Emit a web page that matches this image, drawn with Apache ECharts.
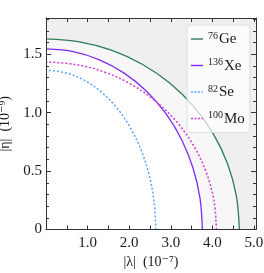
<!DOCTYPE html>
<html><head><meta charset="utf-8">
<script src="https://cdn.jsdelivr.net/npm/echarts@6/dist/echarts.min.js"></script>
<style>html,body{margin:0;padding:0;background:#fff}#c{width:264px;height:273px}</style>
</head><body><div id="c"></div>
<script>
// |lambda| (1e-7) and |eta| (1e-9) along each curve
const geX = [4.65, 4.579, 4.370, 4.027, 3.562, 2.989, 2.325, 1.590, 0.807, 0];
const geY = [0, 0.283, 0.558, 0.816, 1.048, 1.249, 1.412, 1.533, 1.606, 1.631];
const xeX = [3.76, 3.703, 3.533, 3.256, 2.880, 2.417, 1.880, 1.286, 0.653, 0];
const xeY = [0, 0.268, 0.528, 0.773, 0.993, 1.183, 1.338, 1.452, 1.522, 1.545];
const seX = [2.64, 2.600, 2.481, 2.286, 2.022, 1.697, 1.320, 0.903, 0.458, 0];
const seY = [0, 0.237, 0.466, 0.682, 0.876, 1.044, 1.180, 1.281, 1.342, 1.363];
const moX = [4.10, 4.038, 3.853, 3.551, 3.141, 2.635, 2.050, 1.402, 0.712, 0];
const moY = [0, 0.249, 0.490, 0.717, 0.922, 1.098, 1.242, 1.348, 1.412, 1.434];
const seriesNames = ['76Ge', '136Xe', '82Se', '100Mo'];
const isotopeMass = ['76', '136', '82', '100'];
const isotopeSym = ['Ge', 'Xe', 'Se', 'Mo'];
const xTickLabels = ['1.0', '2.0', '3.0', '4.0', '5.0'];
const yTickLabels = ['0', '0.5', '1.0', '1.5'];

const pairs = (xs, ys) => xs.map((x, i) => [x, ys[i]]);
const FONT = '"Liberation Serif", "DejaVu Serif", serif';
const AX = '#333';
const TXT = '#1a1a1a';
const SOLID_ICON = 'path://M0,0H12V1.4H0Z';
const DASH_ICON = 'path://M0,0H2V1.4H0Z M3.5,0H5.5V1.4H3.5Z M7,0H9V1.4H7Z M10.5,0H12V1.4H10.5Z';

function xAxisCfg(pos, labels) {
  return {
    type: 'value', position: pos, min: 0, max: 5.05, interval: 1, z: 10,
    axisLine: { show: true, onZero: false, lineStyle: { color: AX, width: 1 } },
    axisTick: { show: true, inside: true, length: 4, lineStyle: { color: AX } },
    minorTick: { show: true, splitNumber: 2, length: 4, lineStyle: { color: AX } },
    splitLine: { show: false },
    axisLabel: {
      show: labels, margin: 6, fontFamily: FONT, fontSize: 15, color: TXT,
      formatter: v => { const k = Math.round(v); return (Math.abs(v - k) < 1e-6 && k >= 1) ? xTickLabels[k - 1] : ''; }
    },
    name: labels ? '|λ|  (10⁻⁷)' : '', nameLocation: 'middle', nameGap: 22,
    nameTextStyle: { fontFamily: FONT, fontSize: 14, color: TXT }
  };
}
function yAxisCfg(pos, labels) {
  return {
    type: 'value', position: pos, min: 0, max: 1.81, interval: 0.5, z: 10,
    axisLine: { show: true, onZero: false, lineStyle: { color: AX, width: 1 } },
    axisTick: { show: true, inside: true, length: 5, lineStyle: { color: AX } },
    minorTick: { show: true, splitNumber: 5, length: 3, lineStyle: { color: AX } },
    splitLine: { show: false },
    axisLabel: {
      show: labels, margin: 4, fontFamily: FONT, fontSize: 15, color: TXT,
      formatter: v => { const k = Math.round(v / 0.5); return (Math.abs(v - k * 0.5) < 1e-6 && k < yTickLabels.length) ? yTickLabels[k] : ''; }
    },
    name: labels ? '|η|  (10⁻⁹)' : '', nameLocation: 'middle', nameGap: 28, nameRotate: 90,
    nameTextStyle: { fontFamily: FONT, fontSize: 14, color: TXT }
  };
}

const chart = echarts.init(document.getElementById('c'), null, { renderer: 'canvas' });
chart.setOption({
  animation: false,
  backgroundColor: '#fff',
  grid: { left: 46, right: 8, top: 18, bottom: 43.5, show: true, backgroundColor: '#efefef', borderWidth: 0,
          containLabel: false, outerBoundsMode: 'none' },
  xAxis: [xAxisCfg('bottom', true), xAxisCfg('top', false)],
  yAxis: [yAxisCfg('left', true), yAxisCfg('right', false)],
  legend: {
    data: seriesNames.map((n, i) => ({ name: n, icon: i < 2 ? SOLID_ICON : DASH_ICON })),
    orient: 'vertical', left: 187, top: 25,
    padding: [6, 5, 6, 4], itemWidth: 12, itemHeight: 14, itemGap: 10.5,
    backgroundColor: 'rgba(255,255,255,0.72)', borderColor: '#dedede', borderWidth: 1, borderRadius: 3,
    formatter: name => { const i = seriesNames.indexOf(name); return '{s|' + isotopeMass[i] + '}{n|' + isotopeSym[i] + '}'; },
    textStyle: {
      fontFamily: FONT, fontSize: 14, color: TXT, lineHeight: 16,
      rich: {
        s: { fontFamily: FONT, fontSize: 10, color: TXT, lineHeight: 16, verticalAlign: 'top', padding: [0, 1, 0, 0] },
        n: { fontFamily: FONT, fontSize: 15, color: TXT, lineHeight: 16, verticalAlign: 'bottom' }
      }
    }
  },
  series: [
    { type: 'line', name: 'fillGe', data: pairs(geX, geY), smooth: 0.35, symbol: 'none', silent: true,
      lineStyle: { width: 0, opacity: 0 }, areaStyle: { color: '#f7f7f7', opacity: 1 }, z: 1 },
    { type: 'line', name: 'fillXe', data: pairs(xeX, xeY), smooth: 0.35, symbol: 'none', silent: true,
      lineStyle: { width: 0, opacity: 0 }, areaStyle: { color: '#ffffff', opacity: 1 }, z: 1 },
    { type: 'line', name: seriesNames[0], data: pairs(geX, geY), smooth: 0.35, symbol: 'none',
      color: '#2e7d55', lineStyle: { width: 1.3, color: '#2e7d55' }, z: 3 },
    { type: 'line', name: seriesNames[1], data: pairs(xeX, xeY), smooth: 0.35, symbol: 'none',
      color: '#7b2cf0', lineStyle: { width: 1.3, color: '#7b2cf0' }, z: 3 },
    { type: 'line', name: seriesNames[2], data: pairs(seX, seY), smooth: 0.35, symbol: 'none',
      color: '#5aa5ff', lineStyle: { width: 1.5, color: '#5aa5ff', type: [2, 2] }, z: 3 },
    { type: 'line', name: seriesNames[3], data: pairs(moX, moY), smooth: 0.35, symbol: 'none',
      color: '#d23cd2', lineStyle: { width: 1.5, color: '#d23cd2', type: [2, 2] }, z: 3 }
  ]
});
</script></body></html>
